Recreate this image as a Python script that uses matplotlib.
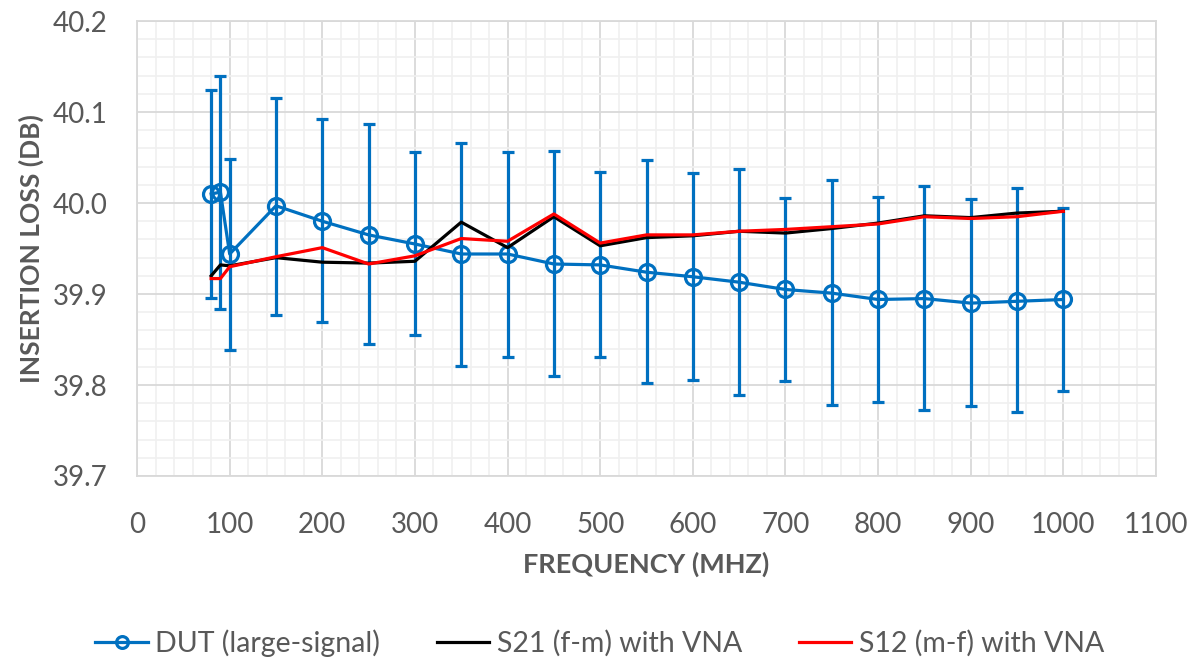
import numpy as np
import matplotlib.pyplot as plt
from matplotlib.ticker import MultipleLocator
from matplotlib.lines import Line2D

# Frequencies (MHz)
freq = [80, 90, 100, 150, 200, 250, 300, 350, 400, 450, 500, 550, 600,
        650, 700, 750, 800, 850, 900, 950, 1000]

# DUT (large-signal) mean and error bar ends
dut = [40.010, 40.012, 39.944, 39.997, 39.980, 39.965, 39.955, 39.944, 39.944,
       39.933, 39.932, 39.924, 39.919, 39.913, 39.905, 39.901, 39.894, 39.895,
       39.890, 39.892, 39.894]
dut_top = [40.124, 40.140, 40.048, 40.116, 40.092, 40.087, 40.056, 40.066, 40.056,
           40.057, 40.034, 40.047, 40.033, 40.037, 40.006, 40.025, 40.007, 40.019,
           40.004, 40.017, 39.995]
dut_bot = [39.896, 39.884, 39.838, 39.877, 39.869, 39.845, 39.855, 39.821, 39.831,
           39.810, 39.831, 39.802, 39.806, 39.789, 39.804, 39.778, 39.781, 39.772,
           39.777, 39.770, 39.793]

# VNA measurements
s21 = [39.920, 39.932, 39.931, 39.940, 39.935, 39.934, 39.936, 39.979, 39.951,
       39.985, 39.953, 39.962, 39.964, 39.969, 39.967, 39.972, 39.978, 39.986,
       39.984, 39.989, 39.991]
s12 = [39.917, 39.917, 39.930, 39.941, 39.951, 39.933, 39.942, 39.961, 39.958,
       39.988, 39.956, 39.965, 39.965, 39.969, 39.971, 39.974, 39.977, 39.985,
       39.983, 39.985, 39.991]

plt.rcParams['font.family'] = ['Lato', 'DejaVu Sans']
gray = '#595959'
blue = '#0070C0'
red = '#FF0000'

fig = plt.figure(figsize=(11.99, 6.59), dpi=100)
ax = fig.add_axes([0.1143, 0.2777, 0.8498, 0.6903])

dut = np.array(dut)
yerr = [dut - np.array(dut_bot), np.array(dut_top) - dut]
ax.errorbar(freq, dut, yerr=yerr, color=blue, lw=2.3, marker='o', ms=11.5,
            mfc='none', mec=blue, mew=2.3, capsize=4.5, capthick=2.3,
            elinewidth=2.3, zorder=3)
ax.plot(freq, s21, color='black', lw=2.3, zorder=4)
ax.plot(freq, s12, color=red, lw=2.3, zorder=5)

ax.set_xlim(0, 1100)
ax.set_ylim(39.7, 40.2)
ax.xaxis.set_major_locator(MultipleLocator(100))
ax.xaxis.set_minor_locator(MultipleLocator(20))
ax.yaxis.set_major_locator(MultipleLocator(0.1))
ax.yaxis.set_minor_locator(MultipleLocator(0.02))
ax.yaxis.set_major_formatter(plt.FuncFormatter(lambda v, p: f'{v:.1f}'))

ax.grid(which='minor', color='#f0f0f0', lw=1.2, zorder=0)
ax.grid(which='major', color='#d9d9d9', lw=1.3, zorder=1)
ax.set_axisbelow(True)
for s in ax.spines.values():
    s.set_color('#d9d9d9')
    s.set_linewidth(1.3)

ax.tick_params(which='both', length=0, labelsize=20, labelcolor=gray)
ax.tick_params(axis='x', pad=26)
ax.tick_params(axis='y', pad=21)
ax.set_xlabel('FREQUENCY (MHZ)', fontsize=19.5, fontweight='bold', color=gray, labelpad=9.5)
ax.set_ylabel('INSERTION LOSS (DB)', fontsize=19, fontweight='bold', color=gray, labelpad=6.5)

handles = [
    Line2D([], [], color=blue, lw=2.3, marker='o', ms=8.5, mfc='none', mew=2.3),
    Line2D([], [], color='black', lw=2.3),
    Line2D([], [], color=red, lw=2.3),
]
labels = ['DUT (large-signal)', 'S21 (f-m) with VNA', 'S12 (m-f) with VNA']
leg = fig.legend(handles, labels, loc='center', bbox_to_anchor=(0.5, 0.024), ncol=3,
                 frameon=False, fontsize=20.5, handlelength=1.85, columnspacing=2.0,
                 handletextpad=0.25)
for t in leg.get_texts():
    t.set_color(gray)

fig.savefig('out.png', dpi=100)
